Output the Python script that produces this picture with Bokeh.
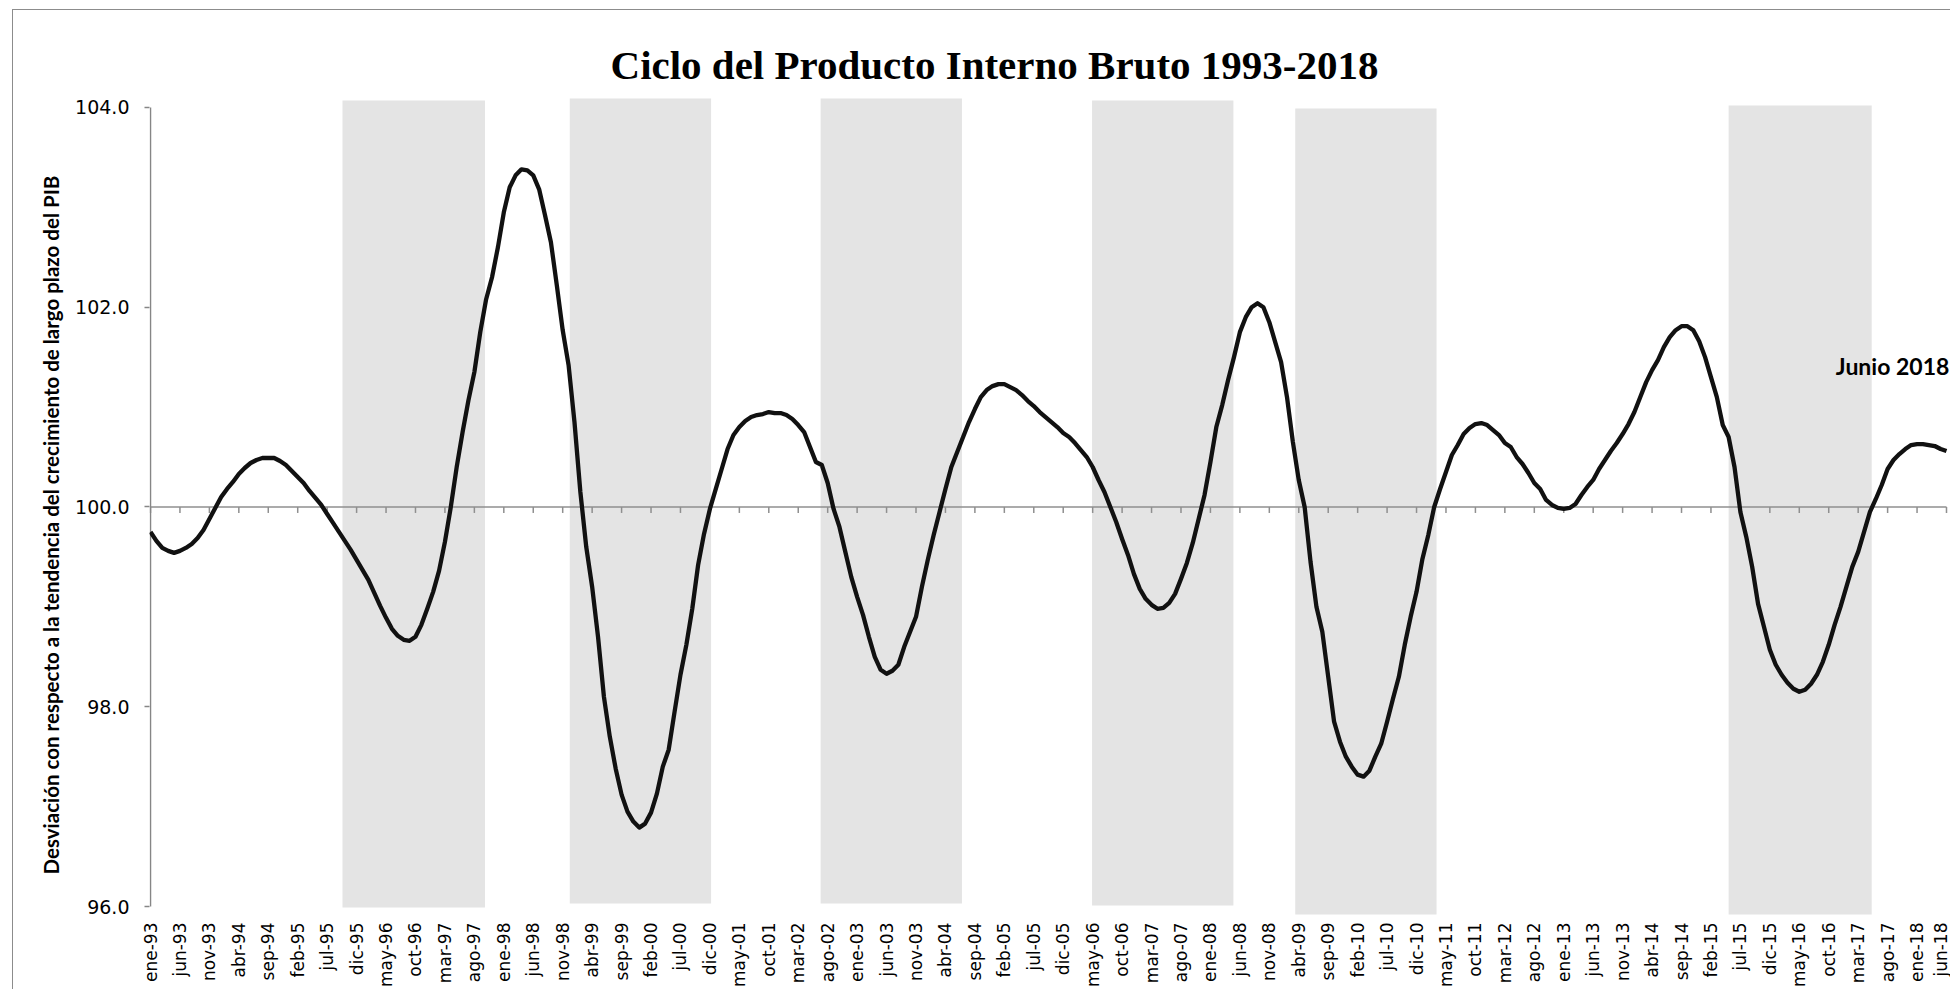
import math
from bokeh.plotting import figure
from bokeh.models import Range1d, FixedTicker, Label, NumeralTickFormatter, Title
from bokeh.embed import file_html
from bokeh.resources import INLINE

# ---------------- data ----------------
# monthly cycle index, ene-93 .. jun-18
ciclo = [
    99.75, 99.66, 99.59, 99.56, 99.54, 99.56, 99.59, 99.63, 99.69, 99.77, 99.88, 99.99,          # 1993
    100.10, 100.18, 100.25, 100.33, 100.39, 100.44, 100.47, 100.49, 100.49, 100.49, 100.46, 100.42,  # 1994
    100.36, 100.30, 100.24, 100.16, 100.09, 100.02, 99.93, 99.84, 99.75, 99.66, 99.57, 99.47,    # 1995
    99.37, 99.27, 99.14, 99.01, 98.89, 98.78, 98.71, 98.67, 98.66, 98.70, 98.82, 98.98,          # 1996
    99.15, 99.36, 99.65, 100.00, 100.40, 100.75, 101.07, 101.35, 101.75, 102.08, 102.30, 102.60,  # 1997
    102.95, 103.20, 103.32, 103.38, 103.37, 103.32, 103.18, 102.92, 102.65, 102.22, 101.77, 101.42,  # 1998
    100.85, 100.15, 99.60, 99.20, 98.70, 98.10, 97.70, 97.38, 97.12, 96.95, 96.85, 96.79,        # 1999
    96.83, 96.94, 97.13, 97.40, 97.57, 97.95, 98.32, 98.62, 98.98, 99.42, 99.73, 99.98,          # 2000
    100.18, 100.38, 100.58, 100.72, 100.80, 100.86, 100.90, 100.92, 100.93, 100.95, 100.94, 100.94,  # 2001
    100.92, 100.88, 100.82, 100.75, 100.60, 100.45, 100.42, 100.24, 99.98, 99.80, 99.55, 99.30,  # 2002
    99.10, 98.92, 98.70, 98.50, 98.37, 98.33, 98.36, 98.42, 98.60, 98.75, 98.90, 99.20,          # 2003
    99.47, 99.72, 99.95, 100.18, 100.40, 100.55, 100.70, 100.85, 100.98, 101.10, 101.17, 101.21,  # 2004
    101.23, 101.23, 101.20, 101.17, 101.12, 101.06, 101.01, 100.95, 100.90, 100.85, 100.80, 100.74,  # 2005
    100.70, 100.64, 100.57, 100.50, 100.40, 100.27, 100.15, 100.00, 99.85, 99.68, 99.52, 99.33,  # 2006
    99.18, 99.08, 99.02, 98.98, 98.99, 99.04, 99.13, 99.28, 99.44, 99.64, 99.88, 100.12,         # 2007
    100.45, 100.80, 101.02, 101.27, 101.50, 101.75, 101.90, 102.00, 102.04, 102.00, 101.85, 101.65,  # 2008
    101.45, 101.10, 100.65, 100.27, 100.00, 99.45, 99.00, 98.75, 98.30, 97.85, 97.65, 97.50,     # 2009
    97.40, 97.32, 97.30, 97.36, 97.50, 97.63, 97.85, 98.08, 98.30, 98.62, 98.90, 99.15,          # 2010
    99.48, 99.72, 100.00, 100.18, 100.35, 100.52, 100.62, 100.73, 100.79, 100.83, 100.84, 100.82,  # 2011
    100.77, 100.72, 100.64, 100.60, 100.50, 100.43, 100.34, 100.24, 100.18, 100.07, 100.02, 99.99,  # 2012
    99.98, 99.99, 100.03, 100.12, 100.20, 100.27, 100.38, 100.47, 100.56, 100.64, 100.73, 100.83,  # 2013
    100.95, 101.10, 101.25, 101.37, 101.47, 101.60, 101.70, 101.77, 101.81, 101.81, 101.77, 101.66,  # 2014
    101.50, 101.30, 101.10, 100.82, 100.70, 100.40, 99.95, 99.70, 99.40, 99.03, 98.80, 98.57,    # 2015
    98.42, 98.32, 98.24, 98.18, 98.15, 98.17, 98.23, 98.32, 98.45, 98.62, 98.82, 99.00,          # 2016
    99.20, 99.40, 99.55, 99.75, 99.95, 100.08, 100.22, 100.38, 100.47, 100.53, 100.58, 100.62,   # 2017
    100.63, 100.63, 100.62, 100.61, 100.58, 100.56,                                               # 2018
]

# x tick labels (every 5 months, starting ene-93)
etiquetas = [
    "ene-93", "jun-93", "nov-93", "abr-94", "sep-94", "feb-95", "jul-95", "dic-95",
    "may-96", "oct-96", "mar-97", "ago-97", "ene-98", "jun-98", "nov-98", "abr-99",
    "sep-99", "feb-00", "jul-00", "dic-00", "may-01", "oct-01", "mar-02", "ago-02",
    "ene-03", "jun-03", "nov-03", "abr-04", "sep-04", "feb-05", "jul-05", "dic-05",
    "may-06", "oct-06", "mar-07", "ago-07", "ene-08", "jun-08", "nov-08", "abr-09",
    "sep-09", "feb-10", "jul-10", "dic-10", "may-11", "oct-11", "mar-12", "ago-12",
    "ene-13", "jun-13", "nov-13", "abr-14", "sep-14", "feb-15", "jul-15", "dic-15",
    "may-16", "oct-16", "mar-17", "ago-17", "ene-18", "jun-18",
]
paso_etiqueta = 5

# shaded periods (month index from ene-93) and their vertical extent
sombra_inicio = [32.6, 71.2, 113.8, 159.9, 194.4, 268.0]
sombra_fin = [56.8, 95.2, 137.8, 183.9, 218.4, 292.3]
sombra_arriba = [104.07, 104.09, 104.09, 104.07, 103.99, 104.02]
sombra_abajo = [95.99, 96.03, 96.03, 96.01, 95.91, 95.88]

y_ticks = [96, 98, 100, 102, 104]

titulo = "Ciclo del Producto Interno Bruto 1993-2018"
titulo_y = "Desviación  con respecto a  la tendencia  del crecimiento de largo plazo del PIB"
nota = "Junio 2018"

# ---------------- figure ----------------
meses = list(range(len(ciclo)))
tick_pos = [i * paso_etiqueta for i in range(len(etiquetas))]

p = figure(
    width=1938, height=980,
    output_backend="svg", toolbar_location=None,
    x_range=Range1d(-0.17, 305.51), y_range=Range1d(95.92, 104.85),
    min_border_left=136, min_border_right=2, min_border_top=12, min_border_bottom=75,
)
p.styles = {"margin-left": "12px", "margin-top": "9px",
            "border-left": "1px solid #8c8c8c", "border-top": "1px solid #8c8c8c"}
p.background_fill_color = "white"
p.border_fill_color = "white"
p.outline_line_color = None
p.grid.visible = False

# shaded periods
p.quad(left=sombra_inicio, right=sombra_fin, top=sombra_arriba, bottom=sombra_abajo,
       fill_color="#e4e4e4", line_color=None)

# horizontal axis line at 100 with tick marks
p.segment(x0=[meses[0]], y0=[100], x1=[meses[-1]], y1=[100], line_color="#8f8f8f", line_width=1.5)
p.segment(x0=tick_pos, y0=[100] * len(tick_pos), x1=tick_pos, y1=[99.94] * len(tick_pos),
          line_color="#8f8f8f", line_width=1.5)
# vertical axis line
p.segment(x0=[meses[0]], y0=[y_ticks[0]], x1=[meses[0]], y1=[y_ticks[-1]], line_color="#868686", line_width=1.5)

# series
p.line(meses, ciclo, line_color="#111111", line_width=4.3, line_join="round")

# x axis: labels only
xa = p.xaxis[0]
xa.ticker = FixedTicker(ticks=tick_pos)
xa.major_label_overrides = {t: l for t, l in zip(tick_pos, etiquetas)}
xa.major_label_orientation = math.pi / 2
xa.major_label_text_font = "DejaVu Sans"
xa.major_label_text_font_size = "17px"
xa.major_label_text_color = "#000000"
xa.axis_line_color = None
xa.major_tick_line_color = None
xa.minor_tick_line_color = None
xa.major_label_standoff = 2

# y axis
ya = p.yaxis[0]
ya.ticker = FixedTicker(ticks=y_ticks)
ya.formatter = NumeralTickFormatter(format="0.0")
ya.axis_line_color = None
ya.major_tick_line_color = "#868686"
ya.major_tick_line_width = 1.5
ya.major_tick_out = 5
ya.major_tick_in = 0
ya.minor_tick_line_color = None
ya.major_label_text_font = "DejaVu Sans"
ya.major_label_text_font_size = "19px"
ya.major_label_text_color = "#000000"
ya.major_label_standoff = 15

# y-axis title (placed as a left title so it can be positioned along the axis)
p.add_layout(Title(text=titulo_y, align="left", offset=40, standoff=18,
                   text_font="Lato", text_font_style="bold", text_font_size="20.5px",
                   text_color="#000000", vertical_align="middle"), "left")

# title and annotation (inside the frame area)
p.add_layout(Label(x=143.33, y=104.42, text=titulo,
                   text_font="Liberation Serif", text_font_style="bold", text_font_size="41px",
                   text_color="#000000", text_align="center", text_baseline="alphabetic"))
p.add_layout(Label(x=305.48, y=101.41, text=nota,
                   text_font="Lato", text_font_style="bold", text_font_size="23px",
                   text_color="#000000", text_align="right", text_baseline="middle"))

open("out.html", "w").write(file_html(p, INLINE))
